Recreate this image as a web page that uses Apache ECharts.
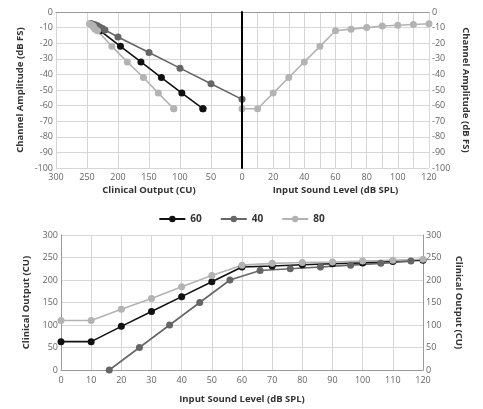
<!DOCTYPE html>
<html>
<head>
<meta charset="utf-8">
<script src="https://cdn.jsdelivr.net/npm/echarts@6/dist/echarts.min.js"></script>
<style>html,body{margin:0;padding:0;background:#fff;}#c{width:483px;height:409px;}</style>
</head>
<body>
<div id="c"></div>
<script>
// Input sound levels (dB SPL) for series 60 and 80
const inputLevels = [0,10,20,30,40,50,60,70,80,90,100,110,120];
// Clinical output (CU) per input level
const cu60 = [63,63,97,130,163,196,229,231,234,236,238,241,244];
const cu80 = [110,110,135,159,185,210,233,237,239,240,242,244,246];
// Series 40 uses shifted input levels
const input40 = [16,26,36,46,56,66,76,86,96,106,116];
const cu40 = [0,50,100,150,200,221,225,229,233,237,242];
// Channel amplitude (dB FS)
const amp = [-62,-62,-52,-42,-32,-22,-12,-11,-10,-9,-8.5,-8,-7.5];
const amp40 = [-56,-46,-36,-26,-16,-11.5,-10.6,-9.7,-8.8,-8.2,-7.7];
const seriesNames = ['60','40','80'];
const colors = {'60':'#111111','40':'#666666','80':'#b3b3b3'};

const zip = (a,b) => a.map((v,i)=>[v,b[i]]);

const tickLbl = {color:'#666', fontSize:9, fontFamily:'Open Sans'};
const nameSt = {color:'#333', fontSize:9.5, fontWeight:'bold', fontFamily:'Open Sans'};
const split = {show:true, lineStyle:{color:'#d6d6d6', width:1}};
const axLine = {show:true, lineStyle:{color:'#999', width:1}};

function line(name, xi, yi, data, size){
  return {
    name, type:'line', xAxisIndex:xi, yAxisIndex:yi, data,
    symbol:'circle', symbolSize:size, color:colors[name],
    lineStyle:{width:1.6, color:colors[name]}, itemStyle:{color:colors[name]},
    animation:false, z: 3
  };
}

const option = {
  animation:false,
  backgroundColor:'#fff',
  legend:{
    data:seriesNames, top:209, left:'center', itemWidth:26, itemHeight:8, itemGap:18,
    textStyle:{color:'#333', fontSize:10, fontWeight:'bold', fontFamily:'Open Sans'}
  },
  grid:[
    {left:56, top:12, width:186, height:156},
    {left:242, top:12, width:187, height:156},
    {left:61, top:235, width:362, height:135}
  ],
  xAxis:[
    {gridIndex:0, type:'value', min:0, max:300, interval:50, inverse:true,
     axisLabel:Object.assign({showMinLabel:false, margin:5}, tickLbl), axisTick:{show:false},
     axisLine:axLine, splitLine:split,
     name:'Clinical Output (CU)', nameLocation:'middle', nameGap:17, nameTextStyle:nameSt},
    {gridIndex:1, type:'value', min:0, max:120, interval:10,
     axisLabel:Object.assign({margin:5, formatter:v => (v%20===0? String(v):'')}, tickLbl), axisTick:{show:false},
     axisLine:axLine, splitLine:split,
     name:'Input Sound Level (dB SPL)', nameLocation:'middle', nameGap:17, nameTextStyle:nameSt},
    {gridIndex:2, type:'value', min:0, max:120, interval:10,
     axisLabel:Object.assign({margin:6}, tickLbl), axisTick:{show:false},
     axisLine:axLine, splitLine:split,
     name:'Input Sound Level (dB SPL)', nameLocation:'middle', nameGap:24, nameTextStyle:nameSt}
  ],
  yAxis:[
    {gridIndex:0, type:'value', min:-100, max:0, interval:10, position:'left',
     axisLabel:Object.assign({margin:3}, tickLbl), axisTick:{show:false},
     axisLine:axLine, splitLine:split,
     name:'Channel Amplitude (dB FS)', nameLocation:'middle', nameRotate:90, nameGap:31, nameTextStyle:nameSt},
    {gridIndex:1, type:'value', min:-100, max:0, interval:10, position:'right',
     axisLabel:Object.assign({margin:3}, tickLbl), axisTick:{show:false},
     axisLine:axLine, splitLine:split,
     name:'Channel Amplitude (dB FS)', nameLocation:'middle', nameRotate:-90, nameGap:32, nameTextStyle:nameSt},
    {gridIndex:1, type:'value', min:-100, max:0, interval:10, position:'left',
     axisLabel:{show:false}, axisTick:{show:false}, splitLine:{show:false},
     axisLine:{show:true, lineStyle:{color:'#000', width:2}}, z:5},
    {gridIndex:2, type:'value', min:0, max:300, interval:50, position:'left',
     axisLabel:Object.assign({margin:3}, tickLbl), axisTick:{show:false},
     axisLine:axLine, splitLine:split,
     name:'Clinical Output (CU)', nameLocation:'middle', nameRotate:90, nameGap:28, nameTextStyle:nameSt},
    {gridIndex:2, type:'value', min:0, max:300, interval:50, position:'right',
     axisLabel:Object.assign({margin:3}, tickLbl), axisTick:{show:false},
     axisLine:axLine, splitLine:{show:false},
     name:'Clinical Output (CU)', nameLocation:'middle', nameRotate:-90, nameGap:31, nameTextStyle:nameSt}
  ],
  series:[
    line('60', 0, 0, zip(cu60, amp), 7),
    line('40', 0, 0, zip(cu40, amp40), 7),
    line('80', 0, 0, zip(cu80, amp), 7),
    line('80', 1, 1, zip(inputLevels, amp), 7),
    line('60', 2, 3, zip(inputLevels, cu60), 7),
    line('40', 2, 3, zip(input40, cu40), 7),
    line('80', 2, 3, zip(inputLevels, cu80), 7)
  ]
};
const chart = echarts.init(document.getElementById('c'), null, {renderer:'canvas'});
chart.setOption(option);
</script>
</body>
</html>
